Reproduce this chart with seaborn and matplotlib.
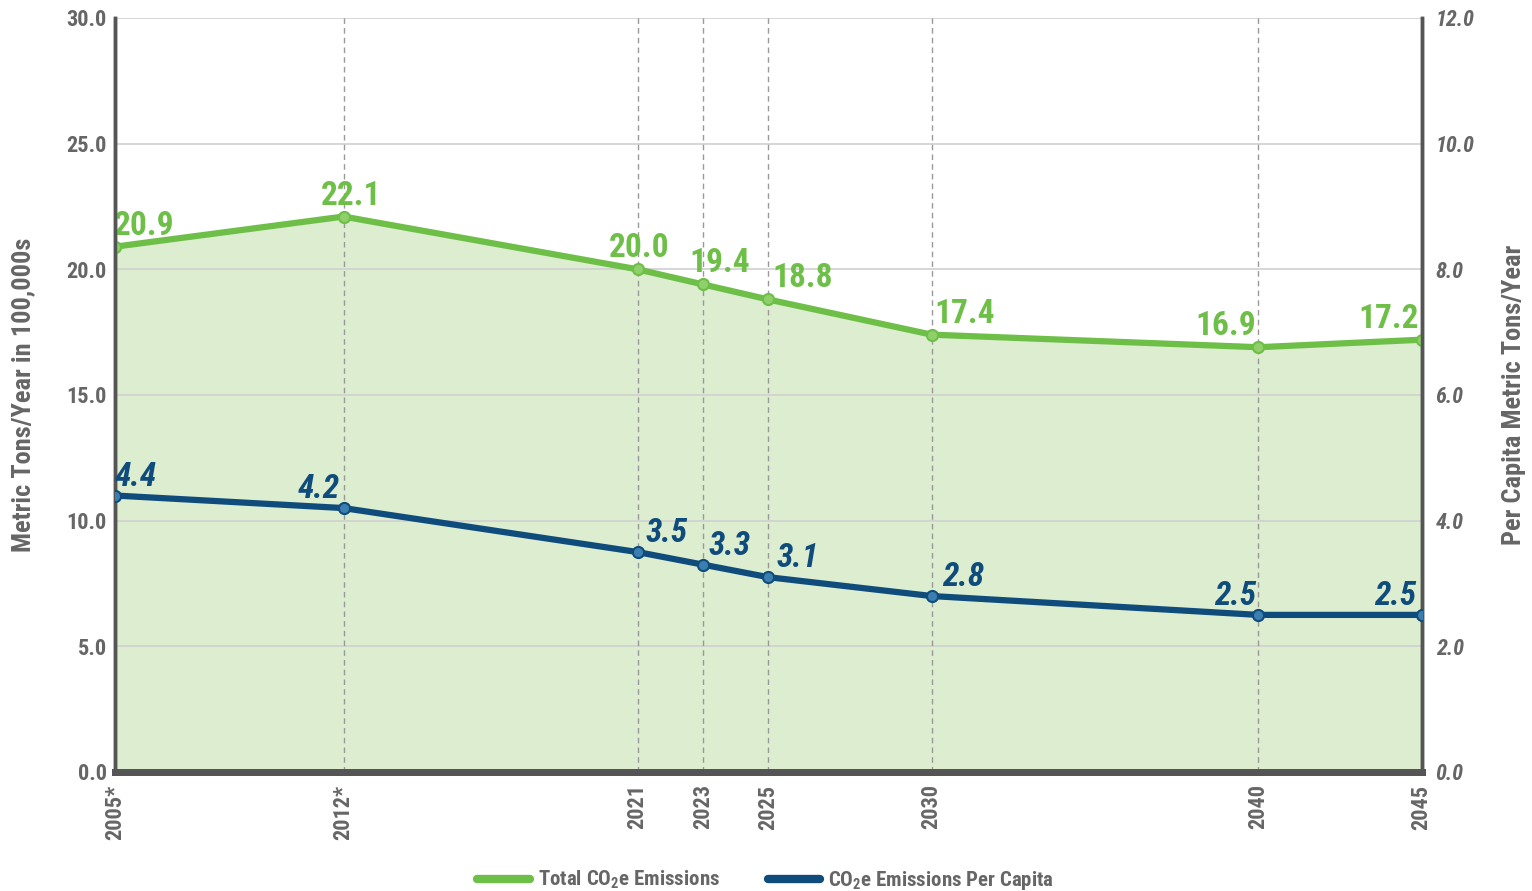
import matplotlib
matplotlib.use("Agg")
import matplotlib.pyplot as plt
import seaborn as sns
import pandas as pd
from matplotlib import font_manager as fm
from matplotlib.lines import Line2D

years = [2005, 2012, 2021, 2023, 2025, 2030, 2040, 2045]
year_labels = ["2005*", "2012*", "2021", "2023", "2025", "2030", "2040", "2045"]
total_emissions = [20.9, 22.1, 20.0, 19.4, 18.8, 17.4, 16.9, 17.2]
per_capita = [4.4, 4.2, 3.5, 3.3, 3.1, 2.8, 2.5, 2.5]
left_ticks = [0, 5, 10, 15, 20, 25, 30]
right_ticks = [0, 2, 4, 6, 8, 10, 12]

GREEN = "#6dbf47"
FILL = "#dcedd0"
BLUE = "#0f4c7c"
GRAY = "#666666"

sns.set_style("white")
names = {f.name for f in fm.fontManager.ttflist}
fam = next((n for n in ["Roboto Condensed", "Archivo Narrow", "Fira Sans Condensed"] if n in names),
           "DejaVu Sans")
plt.rcParams["font.family"] = [fam, "DejaVu Sans"]
plt.rcParams["mathtext.fontset"] = "custom"
plt.rcParams["mathtext.rm"] = f"{fam}:bold"
plt.rcParams["mathtext.it"] = f"{fam}:bold:italic"
plt.rcParams["mathtext.bf"] = f"{fam}:bold"

df = pd.DataFrame({"year": years, "total": total_emissions, "pc": per_capita})

fig = plt.figure(figsize=(15.32, 8.91), dpi=100)
ax = fig.add_axes([0.075, 0.1336, 0.853, 0.8462])
ax2 = ax.twinx()

ax.set_xlim(years[0], years[-1])
ax.set_ylim(0, 30)
ax2.set_ylim(0, 12)

ax.fill_between(df["year"], 0, df["total"], color=FILL, zorder=0)
for y in left_ticks:
    ax.axhline(y, color="#d0d0d0", lw=1.2, zorder=1)
for x in years:
    ax.axvline(x, color="#999999", lw=1, ls=(0, (4, 3)), zorder=1)

sns.lineplot(data=df, x="year", y="total", ax=ax, color=GREEN, lw=4.5,
             marker="o", markersize=8, markerfacecolor="#8fd06a",
             markeredgecolor=GREEN, markeredgewidth=1.5, zorder=5)
sns.lineplot(data=df, x="year", y="pc", ax=ax2, color=BLUE, lw=4.5,
             marker="o", markersize=8, markerfacecolor="#3b7fb0",
             markeredgecolor=BLUE, markeredgewidth=1.5, zorder=5)

PX = 0.72  # points per pixel at 100 dpi
green_dx = [29, 8, 2, 17, 34, 33, -33, -33]
blue_dx = [21, -25, 29, 27, 29, 31, -23, -27]
for x, v, dx in zip(years, total_emissions, green_dx):
    ax.annotate(f"{v:.1f}", (x, v), xytext=(dx * PX, 12 * PX), textcoords="offset points",
                ha="center", va="baseline", color=GREEN, fontsize=24,
                fontweight="bold", zorder=6)
for x, v, dx in zip(years, per_capita, blue_dx):
    ax2.annotate(f"{v:.1f}", (x, v), xytext=(dx * PX, 10 * PX), textcoords="offset points",
                 ha="center", va="baseline", color=BLUE, fontsize=24, fontweight="bold",
                 style="italic", zorder=6)

ax.set_xticks(years)
ax.set_xticklabels(year_labels, rotation=90, fontsize=16, fontweight="bold", color=GRAY)
ax.set_yticks(left_ticks)
ax.set_yticklabels([f"{t:.1f}" for t in left_ticks], fontsize=16, fontweight="bold", color=GRAY)
ax2.set_yticks(right_ticks)
ax2.set_yticklabels([f"{t:.1f}" for t in right_ticks], fontsize=16, fontweight="bold",
                    style="italic", color=GRAY)
ax.tick_params(axis="x", length=0, pad=9)
ax.tick_params(axis="y", length=0, pad=6)
ax2.tick_params(axis="y", length=0, pad=10)

ax.set_xlabel("")
ax.set_ylabel("Metric Tons/Year in 100,000s", fontsize=19, fontweight="bold", color=GRAY, labelpad=22)
ax2.set_ylabel("Per Capita Metric Tons/Year", fontsize=19, fontweight="bold", color=GRAY, labelpad=20)

for a in (ax, ax2):
    a.spines["top"].set_visible(False)
    a.spines["left"].set_color("#555555")
    a.spines["left"].set_linewidth(2.5)
    a.spines["right"].set_color("#555555")
    a.spines["right"].set_linewidth(2.5)
    a.spines["bottom"].set_color("#555555")
    a.spines["bottom"].set_linewidth(5)
    a.grid(False)

handles = [Line2D([0], [0], color=GREEN, lw=6, solid_capstyle="round"),
           Line2D([0], [0], color=BLUE, lw=6, solid_capstyle="round")]
fig.legend(handles, ["Total CO$_2$e Emissions", "CO$_2$e Emissions Per Capita"],
           loc="lower center", bbox_to_anchor=(0.5, -0.022), ncol=2, frameon=False,
           prop={"size": 15, "weight": "bold"}, labelcolor=GRAY, handlelength=2.5,
           handletextpad=0.4, columnspacing=2.3)

fig.savefig("out.png", dpi=100)
